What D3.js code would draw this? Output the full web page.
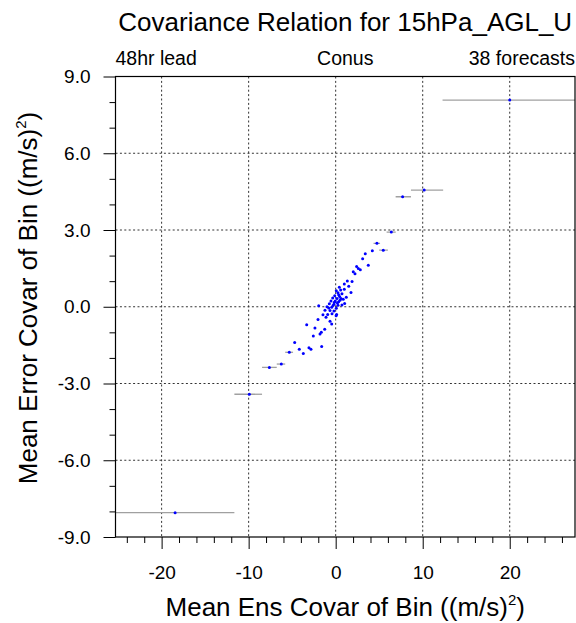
<!DOCTYPE html>
<html>
<head>
<meta charset="utf-8">
<script src="https://cdn.jsdelivr.net/npm/d3@7"></script>
<style>
  html, body { margin: 0; padding: 0; background: #fff; }
  svg text { font-family: "Liberation Sans", Arial, Helvetica, sans-serif; fill: #000; }
</style>
</head>
<body>
<svg id="chart" width="576" height="623"></svg>
<script>
// ---- data ----
const titleText = "Covariance Relation for 15hPa_AGL_U";
const subLeft = "48hr lead", subCenter = "Conus", subRight = "38 forecasts";

// mean ensemble covariance of each bin (x) and mean error covariance (y)
const ensCovar = [
  20.0, 10.17, 7.69, 6.39, 5.47, 4.74, 4.21, 3.40, 3.10, 3.75, 2.41, 2.60, 2.02, 2.22, 2.83,
  1.34, 1.88, 0.99, 0.42, 0.07, 0.57, 0.99, 0.26, 1.76, 0.72, 0.34, -0.11, 1.22, -0.34, 0.15,
  0.61, 0.87, -0.54, -0.05, 0.34, 1.03, -0.73, -0.20, 0.26, 0.72, -1.95, -1.00, -0.46, 0.07,
  -1.23, -0.65, -0.20, -1.46, -0.92, -0.42, -1.11, 0.11, -2.03, -0.65, -3.33, -0.46, -2.38,
  -1.26, -1.65, -1.80, -2.57, -1.61, -3.07, -2.84, -4.71, -4.18, -3.72, -5.33, -6.25, -7.62,
  -9.92, -18.45, 0.45, -0.30, 0.20, 0.50, -0.80, 1.50, 0.05, -0.15
];
const errCovar = [
  8.08, 4.56, 4.30, 2.92, 2.21, 2.48, 2.19, 2.07, 1.88, 1.62, 1.57, 1.50, 1.37, 1.29, 1.45,
  1.01, 0.99, 0.89, 0.76, 0.63, 0.65, 0.68, 0.55, 0.56, 0.51, 0.47, 0.43, 0.37, 0.34, 0.32,
  0.32, 0.29, 0.22, 0.22, 0.20, 0.13, 0.12, 0.10, 0.06, 0.07, 0.04, 0.00, -0.02, -0.06,
  -0.14, -0.15, -0.17, -0.31, -0.30, -0.27, -0.41, -0.30, -0.50, -0.57, -0.70, -0.67, -0.83,
  -0.88, -1.00, -1.07, -1.14, -1.55, -1.60, -1.66, -1.40, -1.66, -1.83, -1.78, -2.24, -2.37,
  -3.42, -8.05, 0.40, 0.05, 0.15, 0.25, -0.05, 0.80, -0.35, 0.18
];
// bin extents (gray horizontal bars) for the wider outer bins
const binCenter = [20.0, 10.17, 7.69, 6.39, 5.47, 4.74, -18.45, -9.92, -7.62, -6.25, -5.33];
const binErr    = [8.08, 4.56, 4.30, 2.92, 2.21, 2.48, -8.05, -3.42, -2.37, -2.24, -1.78];
const binLo     = [12.28, 8.65, 6.89, 5.85, 5.00, 4.35, -30.0, -11.64, -8.46, -6.77, -5.80];
const binHi     = [30.0, 12.35, 8.65, 6.90, 6.00, 5.10, -11.64, -8.46, -6.77, -5.80, -4.90];

const xDomain = [-25.3, 27.5];
const yDomain = [-9, 9];
const xMajorTicks = [-20, -10, 0, 10, 20];
const xTickLabels = ["-20", "-10", "0", "10", "20"];
const xMinorTicks = [-24, -22, -18, -16, -14, -12, -8, -6, -4, -2, 2, 4, 6, 8, 12, 14, 16, 18, 22, 24, 26];
const yMajorTicks = [-9, -6, -3, 0, 3, 6, 9];
const yTickLabels = ["-9.0", "-6.0", "-3.0", "0.0", "3.0", "6.0", "9.0"];
const yMinorTicks = [-8, -7, -5, -4, -2, -1, 1, 2, 4, 5, 7, 8];
const xGrid = [-20, -10, 0, 10, 20];
const yGrid = [-6, -3, 0, 3, 6];
const xTitle = "Mean Ens Covar of Bin ((m/s)";
const yTitle = "Mean Error Covar of Bin ((m/s)";

// ---- layout ----
const L = 115.5, R = 575, T = 76.5, B = 537;
const svg = d3.select("#chart");
const x = d3.scaleLinear().domain(xDomain).range([L, R]);
const y = d3.scaleLinear().domain(yDomain).range([B, T]);

svg.append("defs").append("clipPath").attr("id", "clip")
  .append("rect").attr("x", L).attr("y", T).attr("width", R - L).attr("height", B - T);

// grid
const grid = svg.append("g");
grid.selectAll(".gx").data(xGrid).join("line")
  .attr("x1", d => x(d)).attr("x2", d => x(d)).attr("y1", T).attr("y2", B)
  .attr("stroke", "#333").attr("stroke-width", 1).attr("stroke-dasharray", "2,2.4");
grid.selectAll(".gy").data(yGrid).join("line")
  .attr("y1", d => y(d)).attr("y2", d => y(d)).attr("x1", L).attr("x2", R)
  .attr("stroke", "#333").attr("stroke-width", 1).attr("stroke-dasharray", "2,2.4");

// bin bars
const plot = svg.append("g").attr("clip-path", "url(#clip)");
plot.selectAll(".bar").data(binCenter.map((c, i) => i)).join("line")
  .attr("x1", i => x(binLo[i])).attr("x2", i => x(binHi[i]))
  .attr("y1", i => y(binErr[i])).attr("y2", i => y(binErr[i]))
  .attr("stroke", "#a0a0a0").attr("stroke-width", 1.3);

// points
plot.selectAll(".pt").data(ensCovar.map((v, i) => i)).join("circle")
  .attr("cx", i => x(ensCovar[i])).attr("cy", i => y(errCovar[i]))
  .attr("r", 1.5).attr("fill", "#0000ff");

// axes
const xAxis = d3.axisBottom(x).tickValues(xMajorTicks)
  .tickFormat((d, i) => xTickLabels[i]).tickSizeInner(12).tickSizeOuter(0).tickPadding(17);
const gx = svg.append("g").attr("transform", `translate(0,${B})`).call(xAxis);
gx.select(".domain").remove();
gx.selectAll("text").attr("font-size", 19).attr("font-family", "Liberation Sans, Arial, sans-serif");
svg.append("g").attr("transform", `translate(0,${B})`)
  .call(d3.axisBottom(x).tickValues(xMinorTicks).tickFormat("").tickSizeInner(6).tickSizeOuter(0))
  .select(".domain").remove();

const yAxis = d3.axisLeft(y).tickValues(yMajorTicks)
  .tickFormat((d, i) => yTickLabels[i]).tickSizeInner(12).tickSizeOuter(0).tickPadding(13);
const gy = svg.append("g").attr("transform", `translate(${L},0)`).call(yAxis);
gy.select(".domain").remove();
gy.selectAll("text").attr("font-size", 19).attr("font-family", "Liberation Sans, Arial, sans-serif");
svg.append("g").attr("transform", `translate(${L},0)`)
  .call(d3.axisLeft(y).tickValues(yMinorTicks).tickFormat("").tickSizeInner(6).tickSizeOuter(0))
  .select(".domain").remove();

// frame
svg.append("rect").attr("x", L).attr("y", T).attr("width", R - L).attr("height", B - T)
  .attr("fill", "none").attr("stroke", "#000").attr("stroke-width", 1.2);

// titles
svg.append("text").attr("x", (L + R) / 2).attr("y", 31).attr("text-anchor", "middle")
  .attr("font-size", 26).text(titleText);
svg.append("text").attr("x", L).attr("y", 65).attr("text-anchor", "start").attr("font-size", 19.5).text(subLeft);
svg.append("text").attr("x", (L + R) / 2).attr("y", 65).attr("text-anchor", "middle").attr("font-size", 19.5).text(subCenter);
svg.append("text").attr("x", R).attr("y", 65).attr("text-anchor", "end").attr("font-size", 19.5).text(subRight);

const xt = svg.append("text").attr("x", (L + R) / 2).attr("y", 616).attr("text-anchor", "middle").attr("font-size", 26);
xt.append("tspan").text(xTitle);
xt.append("tspan").attr("font-size", 15).attr("dy", -11).text("2");
xt.append("tspan").attr("dy", 11).text(")");

const yt = svg.append("text").attr("transform", `translate(37,298) rotate(-90)`)
  .attr("text-anchor", "middle").attr("font-size", 26);
yt.append("tspan").text(yTitle);
yt.append("tspan").attr("font-size", 15).attr("dy", -11).text("2");
yt.append("tspan").attr("dy", 11).text(")");
</script>
</body>
</html>
